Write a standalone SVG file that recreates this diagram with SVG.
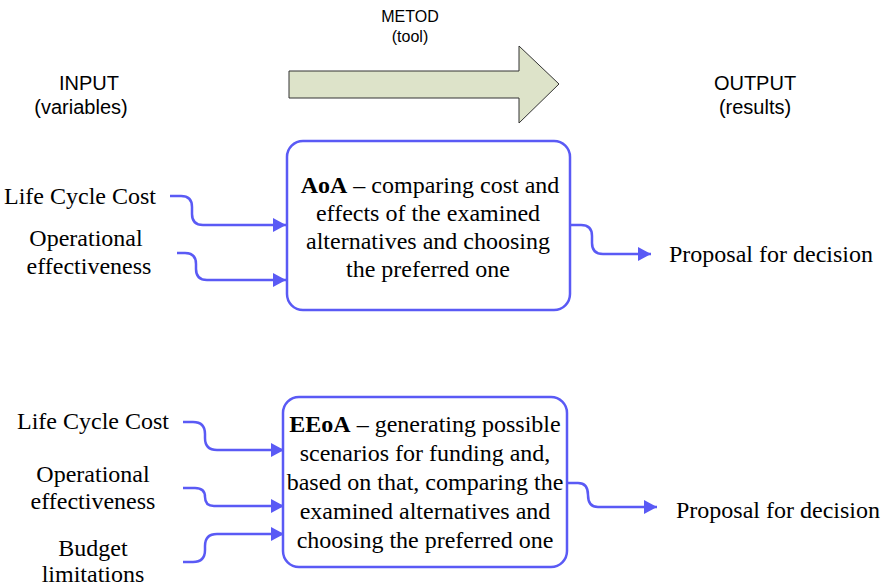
<svg xmlns="http://www.w3.org/2000/svg" width="885" height="586" viewBox="0 0 885 586">
<style>
.s{font-family:"Liberation Sans",Arial,sans-serif;fill:#000;text-anchor:middle}
.t{font-family:"Liberation Serif","Times New Roman",serif;font-size:24px;fill:#000;text-anchor:middle}
.box{fill:#fff;stroke:#5a5af5;stroke-width:2.5}
.c{fill:none;stroke:#5a5af5;stroke-width:2.5}
</style>
<defs>
<marker id="ah" viewBox="0 0 13 14" refX="13" refY="7" markerWidth="13" markerHeight="14" markerUnits="userSpaceOnUse" orient="auto">
<path d="M0,0 L13,7 L0,14 z" fill="#5a5af5"/>
</marker>
</defs>
<rect width="885" height="586" fill="#fff"/>
<g id="header">
<text class="s" x="410" y="22" font-size="16">METOD</text>
<text class="s" x="410" y="42" font-size="16">(tool)</text>
<text class="s" x="89" y="90" font-size="20">INPUT</text>
<text class="s" x="81" y="114" font-size="20">(variables)</text>
<text class="s" x="755" y="90" font-size="20">OUTPUT</text>
<text class="s" x="755" y="114" font-size="20">(results)</text>
</g>
<g id="method-arrow">
<path d="M289,71 H519 V46 L559,84 L519,123 V98 H289 Z" fill="#dde3c9" stroke="#333" stroke-width="1"/>
</g>
<g id="inputs-aoa">
<text class="t" x="80" y="204">Life Cycle Cost</text>
<text class="t" x="86" y="246">Operational</text>
<text class="t" x="89" y="274">effectiveness</text>
</g>
<g id="aoa">
<rect class="box" x="287" y="141" width="283" height="169" rx="16"/>
<text class="t" x="430" y="193"><tspan font-weight="bold">AoA</tspan> – comparing cost and</text>
<text class="t" x="428" y="221">effects of the examined</text>
<text class="t" x="428" y="249">alternatives and choosing</text>
<text class="t" x="428" y="277">the preferred one</text>
</g>
<g id="output-aoa">
<text class="t" x="771" y="262">Proposal for decision</text>
</g>
<g id="inputs-eeoa">
<text class="t" x="93" y="429">Life Cycle Cost</text>
<text class="t" x="93" y="482">Operational</text>
<text class="t" x="93" y="509">effectiveness</text>
<text class="t" x="93" y="556">Budget</text>
<text class="t" x="93" y="582">limitations</text>
</g>
<g id="eeoa">
<rect class="box" x="283" y="397" width="284" height="170" rx="16"/>
<text class="t" x="425" y="432"><tspan font-weight="bold">EEoA</tspan> – generating possible</text>
<text class="t" x="425" y="461">scenarios for funding and,</text>
<text class="t" x="425" y="490">based on that, comparing the</text>
<text class="t" x="425" y="519">examined alternatives and</text>
<text class="t" x="425" y="548">choosing the preferred one</text>
</g>
<g id="output-eeoa">
<text class="t" x="778" y="518">Proposal for decision</text>
</g>
<g id="connectors">
<path class="c" marker-end="url(#ah)" d="M170,196 H181 Q192,196 192,207 V214 Q192,225 203,225 H286"/>
<path class="c" marker-end="url(#ah)" d="M177,253 H185 Q196,253 196,264 V269 Q196,280 207,280 H286"/>
<path class="c" marker-end="url(#ah)" d="M570,225 H581 Q592,225 592,236 V243 Q592,254 603,254 H651"/>
<path class="c" marker-end="url(#ah)" d="M183,422 H193 Q205,422 205,434 V438 Q205,450 217,450 H284"/>
<path class="c" marker-end="url(#ah)" d="M183,488 H195 Q205,488 205,497 Q205,506 214,506 H284"/>
<path class="c" marker-end="url(#ah)" d="M183,562 H193 Q205,562 205,550 V546 Q205,534 217,534 H284"/>
<path class="c" marker-end="url(#ah)" d="M568,483 H578 Q588,483 588,495 Q588,507 598,507 H657"/>
</g>
</svg>
